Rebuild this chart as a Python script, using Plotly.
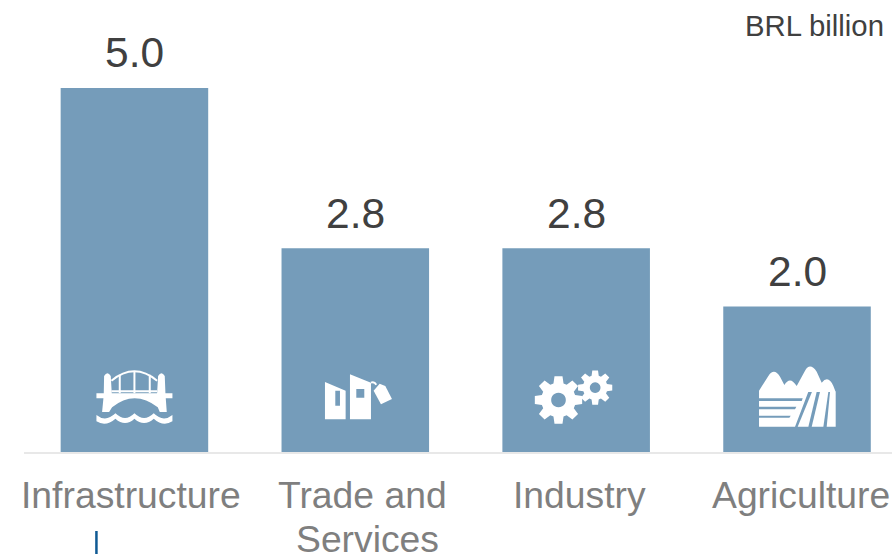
import re
import numpy as np
import plotly.graph_objects as go

categories = ["Infrastructure", "Trade and Services", "Industry", "Agriculture"]
values = [5.0, 2.8, 2.8, 2.0]
label_lines = [["Infrastructure"], ["Trade and", "Services"], ["Industry"], ["Agriculture"]]
label_shifts = [[-3], [7, 12], [3], [4]]
value_shifts = [10, 9, 9, 9]
unit_label = "BRL billion"

BAR_COLOR = "#759CBA"
TEXT_DARK = "#404040"
TEXT_GREY = "#7F7F7F"
FONT = "Liberation Sans"


def place(path, dx, up):
    """Rescale a path drawn on a 3x grid to pixels relative to a bar's base."""
    def conv(m):
        return f"{dx + float(m.group(1)) / 3:.2f},{up - float(m.group(2)) / 3:.2f}"
    return re.sub(r"(-?[\d.]+),(-?[\d.]+)", conv, path)


def gear(cx, cy, outer, root, hole, teeth=8):
    pts = []
    step = 2 * np.pi / teeth
    for i in range(teeth):
        a = i * step - np.pi / 2
        for off, r in [(-0.30, root), (-0.17, outer), (0.17, outer), (0.30, root)]:
            pts.append((cx + r * np.cos(a + off * step * 1.25), cy + r * np.sin(a + off * step * 1.25)))
    d = "M" + " L".join(f"{x:.1f},{y:.1f}" for x, y in pts) + " Z "
    circle = [(cx + hole * np.cos(t), cy + hole * np.sin(t)) for t in np.linspace(0, 2 * np.pi, 24, endpoint=False)]
    return d + "M" + " L".join(f"{x:.1f},{y:.1f}" for x, y in circle) + " Z"


bridge_fill = [
    "M108,130 L130,130 L131,78 Q141,62 151,78 L154,130 L290,130 L293,78 Q303,62 313,78 L315,130 L336,130 "
    "L336,145 L316,145 L319,186 L298,186 L292,172 Q222,118 155,172 L146,186 L125,186 L129,145 L108,145 Z",
    "M108,195 Q136,218 165,190 Q194,218 222,190 Q251,218 280,190 Q308,218 336,195 L336,214 "
    "Q308,232 280,206 Q251,232 222,206 Q194,232 165,206 Q136,232 108,214 Z",
]
bridge_lines = [
    "M153,92 Q222,36 290,92",
    "M153,124 L290,124",
    "M178,74 L178,130 M222,64 L222,130 M268,74 L268,130",
]
shop_fill = [
    "M794,96 L856,122 L856,208 L794,208 Z M825,122 L839,122 L839,167 L825,167 Z",
    "M869,73 L932,98 L932,208 L869,208 Z M888,117 L912,117 L912,143 L888,143 Z",
    "M940,122 L958,101 L975,108 L995,147 L962,163 Z",
]
shop_lines = ["M932,98 Q942,94 948,104"]
gear_fill = [gear(175, 150, 72, 52, 22), gear(285, 113, 52, 37, 16)]
farm_fill = [
    "M777,126 L777,122 L805,78 Q822,52 840,80 L853,105 Q870,76 890,108 L915,62 Q930,36 950,65 L965,98 "
    "Q985,74 1000,108 L1007,126 Z",
    "M777,125 L925,125 L885,230 L777,230 Z M777,145 L908,145 L905,153 L777,153 Z "
    "M777,170 L889,170 L885,178 L777,178 Z M777,197 L872,197 L868,203 L777,203 Z",
    "M936,125 L950,125 L925,230 L893,230 Z",
    "M960,125 L985,125 L970,230 L935,230 Z",
    "M990,125 L1007,125 L1007,230 L980,230 Z",
]

# icon geometry for each bar: filled paths, stroked paths, offset of the drawing grid
icons = [
    (bridge_fill, bridge_lines, -74, 102),
    (shop_fill, shop_lines, -295, 102),
    (gear_fill, [], -76, 102),
    (farm_fill, [], -297, 102),
]

fig = go.Figure(
    go.Bar(
        x=categories,
        y=values,
        width=0.668,
        marker=dict(color=BAR_COLOR, line=dict(width=0)),
        hoverinfo="skip",
    )
)

shapes = []
for cat, (fills, lines, dx, up) in zip(categories, icons):
    common = dict(type="path", xref="x", yref="y", xsizemode="pixel", ysizemode="pixel", xanchor=cat, yanchor=0, layer="above")
    for p in fills:
        shapes.append(dict(path=place(p, dx, up), fillcolor="white", fillrule="evenodd", line=dict(width=0), **common))
    for p in lines:
        shapes.append(dict(path=place(p, dx, up), line=dict(color="white", width=2), **common))

# short accent rule below the first category label
shapes.append(
    dict(type="line", xref="x", yref="paper", xsizemode="pixel", ysizemode="pixel", xanchor=categories[0], yanchor=0,
         x0=-38, x1=-38, y0=-79, y1=-102, line=dict(color="#0F5A94", width=2.5))
)

annotations = []
for cat, val, lift in zip(categories, values, value_shifts):
    annotations.append(dict(x=cat, y=val, xref="x", yref="y", text=f"{val:.1f}", showarrow=False, yanchor="bottom",
                            yshift=lift, font=dict(family=FONT, size=42.5, color=TEXT_DARK)))
for cat, lines, shifts in zip(categories, label_lines, label_shifts):
    for i, (line, shift) in enumerate(zip(lines, shifts)):
        annotations.append(dict(x=cat, y=0, xref="x", yref="paper", text=line, showarrow=False, yanchor="top",
                                xshift=shift, yshift=-20 - 44 * i, font=dict(family=FONT, size=37.3, color=TEXT_GREY)))
annotations.append(dict(x=1, y=1, xref="paper", yref="paper", text=unit_label, showarrow=False, xanchor="right",
                        yanchor="middle", xshift=-6, yshift=63, font=dict(family=FONT, size=29.3, color=TEXT_DARK)))

fig.update_layout(
    width=892,
    height=554,
    autosize=False,
    margin=dict(l=24, r=0, t=88, b=102),
    paper_bgcolor="white",
    plot_bgcolor="white",
    showlegend=False,
    shapes=shapes,
    annotations=annotations,
    xaxis=dict(type="category", range=[-0.5, 3.43], showgrid=False, showticklabels=False, ticks="",
               showline=True, linecolor="#E8E8E8", linewidth=2, zeroline=False, fixedrange=True),
    yaxis=dict(range=[0, 5], visible=False, showgrid=False, zeroline=False, fixedrange=True),
)

fig.write_html("out.html", config=dict(displayModeBar=False))
